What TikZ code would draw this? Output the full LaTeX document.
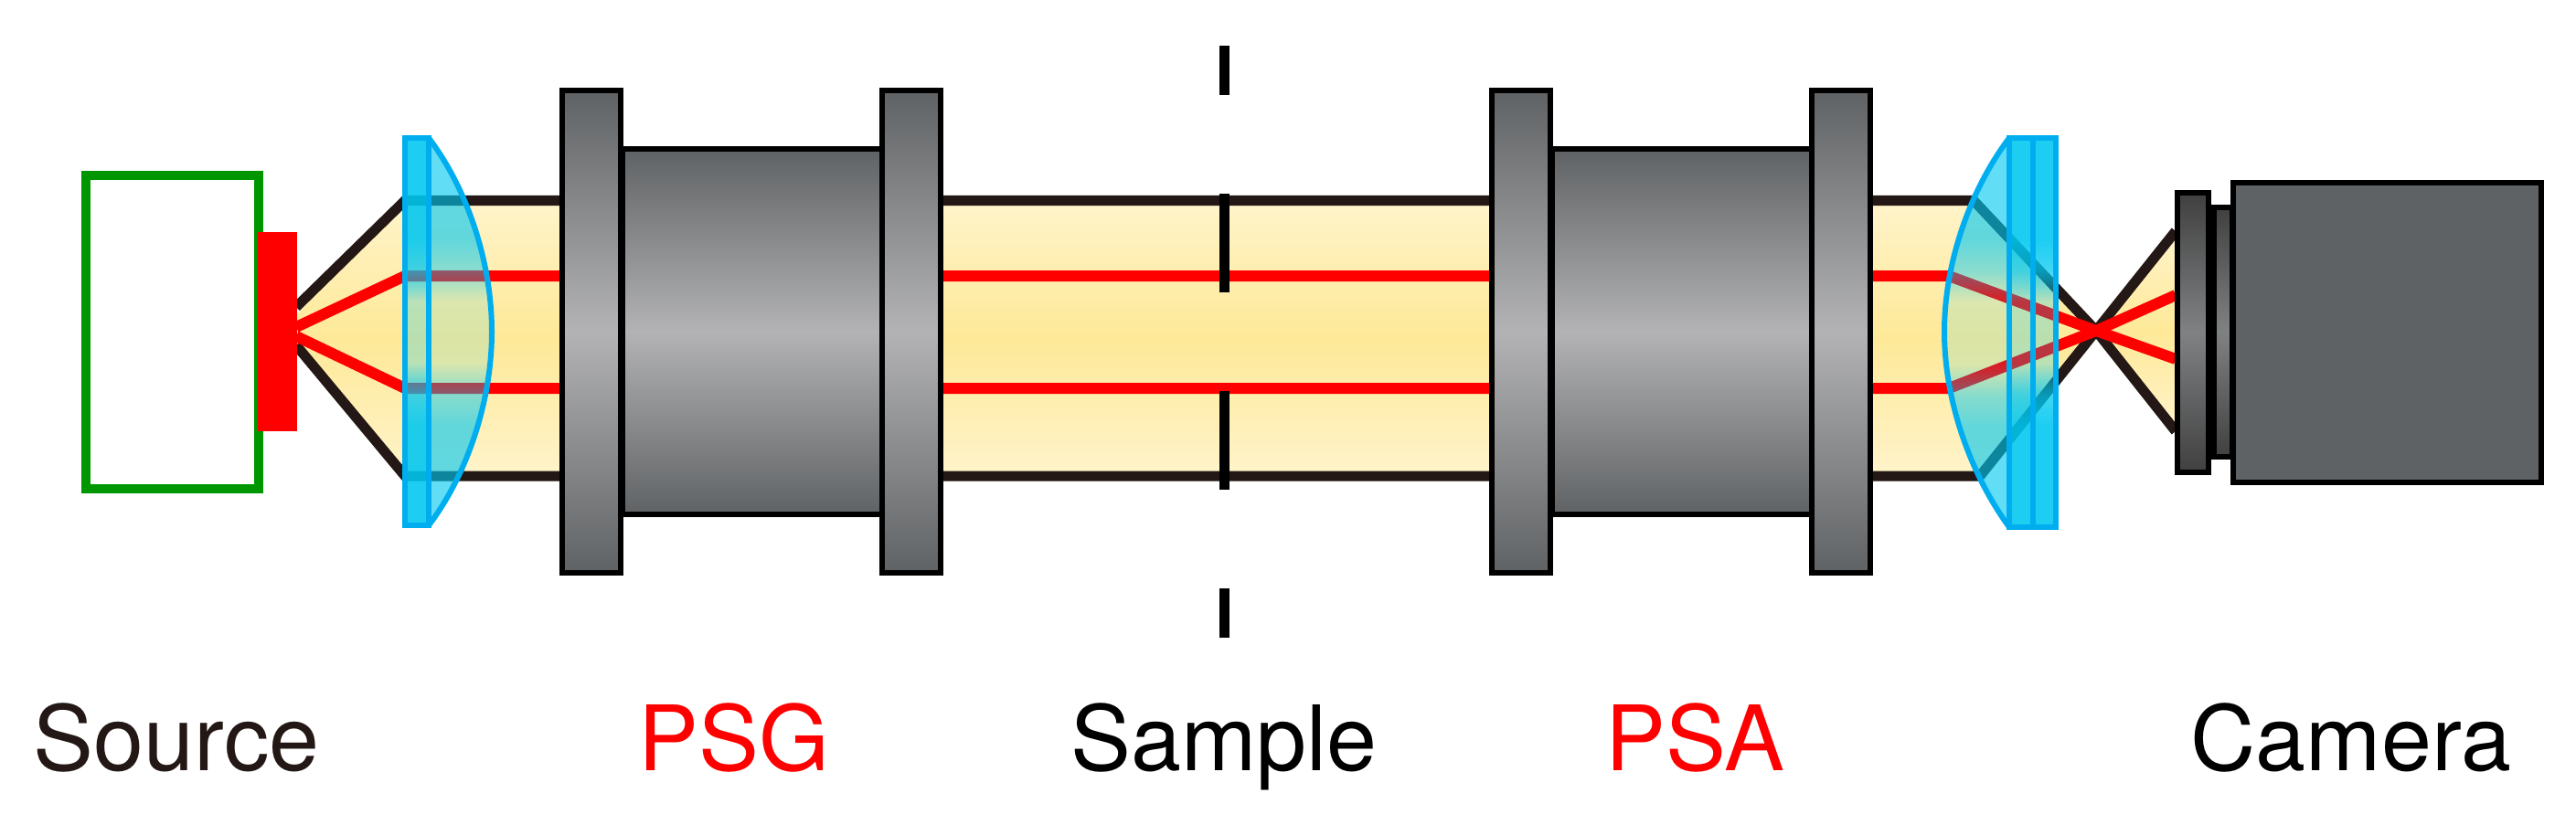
\documentclass[tikz,border=0pt]{standalone}
\usepackage{fontspec}
\setmainfont{TeX Gyre Heros}
\usepackage{xcolor}
\usetikzlibrary{fadings}

\definecolor{beamline}{HTML}{231815}
\definecolor{beamedge}{HTML}{FFF4CB}
\definecolor{beammid}{HTML}{FEE998}
\definecolor{steeledge}{HTML}{5F6264}
\definecolor{steelmid}{HTML}{B3B3B5}
\definecolor{lensblue}{HTML}{00C8F0}
\definecolor{lensline}{HTML}{00AEEF}
\definecolor{sourcegreen}{HTML}{009600}

\pgfdeclareverticalshading{lensmask}{100bp}{color(0bp)=(pgftransparent!0); color(38bp)=(pgftransparent!0); color(42bp)=(pgftransparent!25); color(46bp)=(pgftransparent!78); color(54bp)=(pgftransparent!78); color(58bp)=(pgftransparent!25); color(62bp)=(pgftransparent!0); color(100bp)=(pgftransparent!0)}
\pgfdeclarefading{lensfade}{\pgfuseshading{lensmask}}

\tikzset{
	beam/.style={top color=beamedge,bottom color=beamedge,middle color=beammid},
	steel/.style={draw=black,line width=0.06cm,top color=steeledge,bottom color=steeledge,middle color=steelmid},
	darksteel/.style={draw=black,line width=0.06cm,top color=black!75,bottom color=black!75,middle color=steeledge!80!white},
	edgeline/.style={draw=beamline,line width=0.11cm},
	rayline/.style={draw=red,line width=0.12cm},
	samplebar/.style={draw=black,line width=0.11cm},
	lensglass/.style={fill=lensblue,path fading=lensfade},
	lensedge/.style={draw=lensline,line width=0.06cm},
	caption/.style={font=\fontsize{28.1}{33}\selectfont,anchor=base}
}

\begin{document}
\begin{tikzpicture}[y=-0.01cm,x=0.01cm]
	\newcommand\Flange{+(-32,-264) rectangle +(32,264)}
	\newcommand\Body{+(-142,-200) rectangle +(142,200)}
	\useasboundingbox (0,0) rectangle (2818,903);

	\draw [draw=sourcegreen,line width=0.105cm] (94,192) rectangle (283,535);

	% yellow light
	\shade [beam] (324,345) -- (443,219) -- (443,521) -- (324,375) -- cycle;
	\shade [beam] (443,219) -- (2159,219) -- (2293,362) -- (2166,521) -- (443,521) -- cycle;
	\shade [beam] (2293,362) -- (2380,253) -- (2380,472) -- cycle;

	\draw [edgeline] (324,336) -- (443,219.5) -- (2159,219.5) -- (2293,362) -- (2380,472);
	\draw [edgeline] (324,378) -- (443,521) -- (2166,521) -- (2293,362) -- (2380,253);
	\draw [draw=beamline,line width=0.025cm] (443,210) -- (443,530);
	\draw [rayline] (324,358) -- (443,302) -- (2132,302) -- (2293,362) -- (2380,393);
	\draw [rayline] (324,368) -- (443,425) -- (2132,425) -- (2293,362) -- (2380,323);

	\fill [red] (282,254) rectangle (324.5,472);

	\draw [samplebar] (1339.5,50) -- (1339.5,104);
	\draw [samplebar] (1339.5,212) -- (1339.5,320);
	\draw [samplebar] (1339.5,428) -- (1339.5,536);
	\draw [samplebar] (1339.5,644) -- (1339.5,698);

	\shadedraw [steel] (823,363) \Body;
	\shadedraw [steel] (1840,363) \Body;
	\shadedraw [steel] (647,363) \Flange;
	\shadedraw [steel] (997,363) \Flange;
	\shadedraw [steel] (1664,363) \Flange;
	\shadedraw [steel] (2014,363) \Flange;

	\shadedraw [darksteel] (2422,227) rectangle (2442,500);
	\shadedraw [darksteel] (2382,211) rectangle (2416,517);
	\draw [draw=black,fill=steeledge,line width=0.06cm] (2443,200) rectangle (2780,528);

	% left lens
	\fill [lensglass,fill opacity=0.62] (443,151) -- (469,151) .. controls (510,205) and (538,285) .. (538,363) .. controls (538,441) and (510,521) .. (469,575) -- (443,575) -- cycle;
	\fill [lensglass,fill opacity=0.7] (443,151) rectangle (469,575);
	\draw [lensedge] (469,151) .. controls (510,205) and (538,285) .. (538,363) .. controls (538,441) and (510,521) .. (469,575);
	\draw [lensedge] (443,151) rectangle (469,575);

	% right lens
	\fill [lensglass,fill opacity=0.62] (2249,151) -- (2198,151) .. controls (2157,205) and (2127,285) .. (2127,363) .. controls (2127,441) and (2157,521) .. (2198,577) -- (2249,577) -- cycle;
	\fill [lensglass,fill opacity=0.7] (2198,151) rectangle (2249,577);
	\draw [lensedge] (2198,151) .. controls (2157,205) and (2127,285) .. (2127,363) .. controls (2127,441) and (2157,521) .. (2198,577);
	\draw [lensedge] (2198,151) rectangle (2249,577);
	\draw [lensedge] (2224,151) -- (2224,577);

	\node [caption,text=beamline] (sourcelabel) at (193,843) {Source};
	\node [caption,text=red] (psglabel) at (803,843) {PSG};
	\node [caption,text=black] (samplelabel) at (1339,843) {Sample};
	\node [caption,text=red] (psalabel) at (1854,843) {PSA};
	\node [caption,text=black] (cameralabel) at (2572,843) {Camera};
\end{tikzpicture}
\end{document}
